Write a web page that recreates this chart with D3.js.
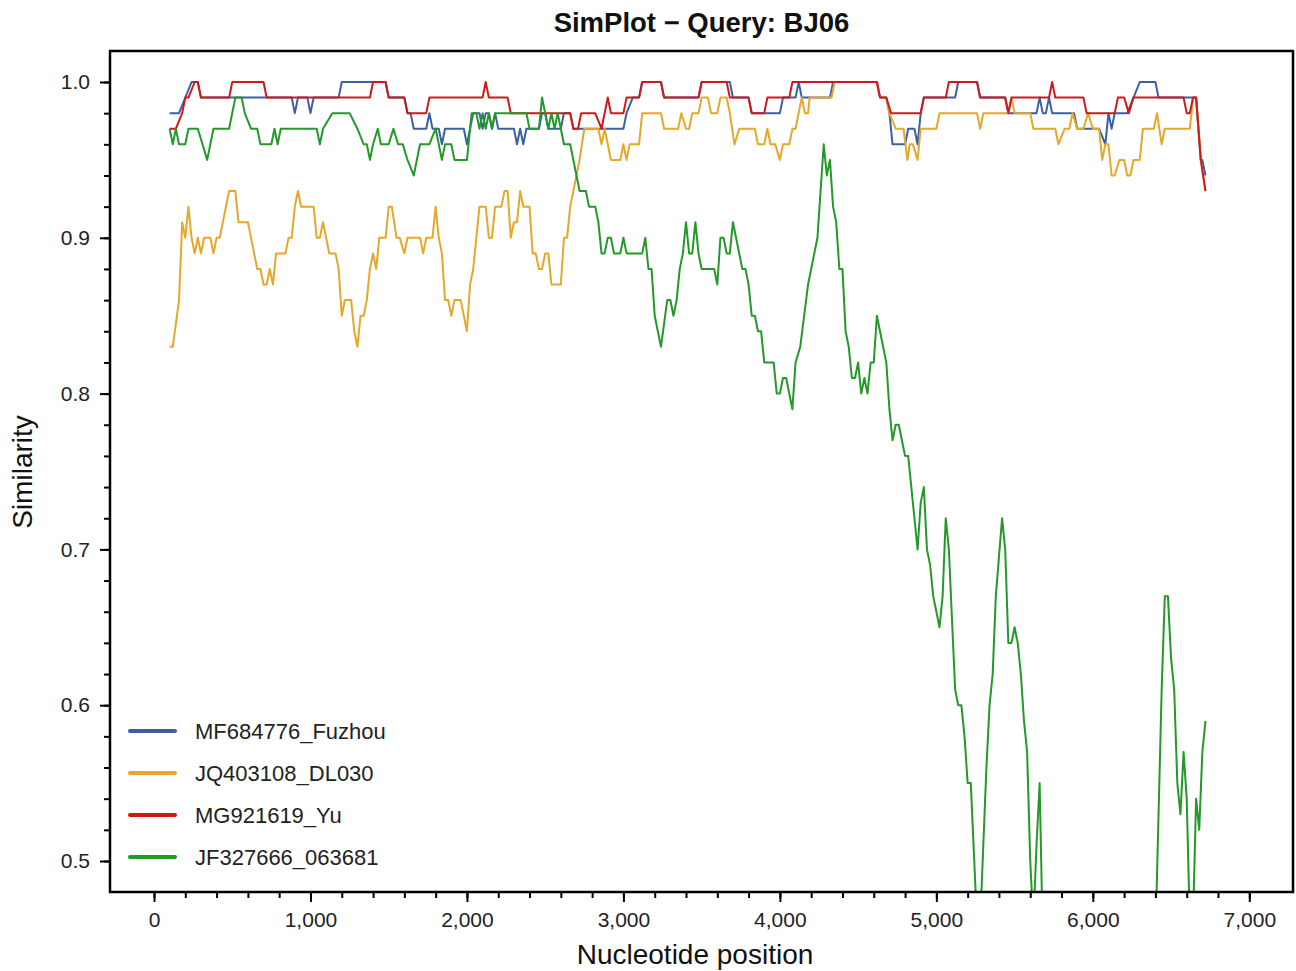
<!DOCTYPE html>
<html>
<head>
<meta charset="utf-8">
<script src="https://cdn.jsdelivr.net/npm/d3@7"></script>
<style>
  html, body { margin: 0; padding: 0; background: #fff; }
  svg { display: block; font-family: "Liberation Sans", Arial, sans-serif; }
</style>
</head>
<body>
<svg width="1296" height="971"></svg>
<script>
// window position (nt) and similarity
const fuzhou = [
  [100,.98],[160,.98],[200,.99],[240,1],[280,1],[300,.99],[880,.99],[900,.98],[920,.99],[980,.99],[1000,.98],[1020,.99],
  [1180,.99],[1200,1],[1480,1],[1500,.99],[1600,.99],[1620,.98],[1640,.98],[1660,.97],[1740,.97],[1760,.98],[1780,.97],
  [1820,.97],[1840,.96],[1860,.97],[1980,.97],[2000,.96],[2040,.98],[2080,.98],[2100,.97],[2120,.98],[2140,.98],[2160,.97],
  [2180,.98],[2200,.97],[2300,.97],[2320,.96],[2340,.97],[2360,.96],[2380,.97],[2460,.97],[2480,.98],[2500,.98],[2520,.97],
  [2600,.97],[2620,.98],[2660,.98],[2680,.97],[3000,.97],[3020,.98],[3060,.99],[3100,.99],[3120,1],[3240,1],[3260,.99],
  [3480,.99],[3500,1],[3680,1],[3700,.99],[3800,.99],[3820,.98],[4000,.98],[4020,.99],[4100,.99],[4120,1],[4140,.99],
  [4320,.99],[4340,1],[4620,1],[4640,.99],[4680,.99],[4700,.98],[4720,.96],[4800,.96],[4820,.97],[4860,.97],[4880,.96],
  [4900,.98],[4920,.99],[5120,.99],[5140,1],[5260,1],[5280,.99],[5440,.99],[5460,.98],[5640,.98],[5660,.99],[5680,.98],
  [5700,.98],[5720,.99],[5740,.98],[5880,.98],[5900,.97],[6040,.97],[6080,.96],[6100,.98],[6120,.97],[6140,.98],[6220,.98],
  [6260,.99],[6300,1],[6400,1],[6420,.99],[6660,.99],[6690,.95],[6700,.95],[6720,.94]
];

const dl030 = [
  [100,.83],[120,.83],[160,.86],[180,.91],[200,.90],[220,.92],[240,.90],[260,.89],[280,.90],[300,.89],[320,.90],[360,.90],
  [380,.89],[400,.90],[420,.90],[440,.91],[480,.93],[520,.93],[540,.91],[600,.91],[660,.88],[680,.88],[700,.87],[720,.87],
  [740,.88],[760,.87],[780,.89],[840,.89],[860,.90],[880,.90],[900,.92],[920,.93],[940,.92],[1020,.92],[1040,.90],[1060,.90],
  [1080,.91],[1120,.89],[1160,.89],[1180,.88],[1200,.85],[1220,.86],[1260,.86],[1280,.84],[1300,.83],[1320,.85],[1340,.85],
  [1360,.86],[1380,.88],[1400,.89],[1420,.88],[1440,.90],[1480,.90],[1500,.92],[1520,.92],[1550,.90],[1570,.90],[1600,.89],
  [1620,.90],[1700,.90],[1720,.89],[1740,.90],[1780,.90],[1800,.92],[1820,.90],[1840,.89],[1860,.86],[1880,.86],[1900,.85],
  [1920,.86],[1960,.86],[1980,.85],[2000,.84],[2020,.87],[2040,.88],[2080,.92],[2120,.92],[2140,.90],[2160,.90],[2180,.92],
  [2220,.92],[2240,.93],[2260,.93],[2280,.90],[2300,.91],[2320,.91],[2340,.93],[2360,.92],[2400,.92],[2420,.89],[2440,.89],
  [2460,.88],[2480,.88],[2500,.89],[2520,.89],[2540,.87],[2600,.87],[2620,.90],[2640,.90],[2660,.92],[2680,.93],[2700,.94],
  [2720,.95],[2750,.97],[2840,.97],[2860,.96],[2880,.97],[2900,.96],[2920,.95],[2980,.95],[3000,.96],[3020,.95],[3040,.96],
  [3100,.96],[3120,.98],[3240,.98],[3260,.97],[3350,.97],[3370,.98],[3400,.97],[3420,.97],[3440,.98],[3480,.98],[3500,.99],
  [3540,.99],[3560,.98],[3600,.98],[3620,.99],[3660,.99],[3680,.98],[3710,.96],[3740,.97],[3840,.97],[3860,.96],[3900,.96],
  [3920,.97],[3940,.96],[3970,.96],[4000,.95],[4020,.96],[4060,.96],[4080,.97],[4100,.97],[4120,.98],[4140,.99],[4160,.98],
  [4180,.98],[4190,.99],[4330,.99],[4350,1],[4620,1],[4640,.99],[4680,.99],[4700,.98],[4740,.97],[4790,.97],[4815,.95],
  [4830,.96],[4850,.96],[4880,.95],[4900,.97],[5000,.97],[5020,.98],[5260,.98],[5280,.97],[5300,.98],[5460,.98],[5480,.99],
  [5500,.98],[5600,.98],[5620,.97],[5760,.97],[5780,.96],[5820,.97],[5850,.97],[5870,.98],[5900,.97],[5940,.97],[5970,.98],
  [6000,.97],[6040,.97],[6060,.95],[6080,.96],[6100,.96],[6120,.94],[6140,.94],[6170,.95],[6200,.95],[6220,.94],[6240,.94],
  [6260,.95],[6300,.95],[6320,.97],[6390,.97],[6410,.98],[6440,.96],[6460,.97],[6620,.97],[6640,.99],[6660,.99],[6690,.95],
  [6720,.93]
];

const yu = [
  [100,.97],[140,.97],[180,.98],[200,.99],[220,.99],[260,1],[280,1],[300,.99],[480,.99],[500,1],[700,1],[720,.99],
  [1380,.99],[1400,1],[1480,1],[1500,.99],[1600,.99],[1620,.98],[1740,.98],[1760,.99],[2100,.99],[2120,1],[2140,.99],
  [2260,.99],[2280,.98],[2660,.98],[2680,.97],[2710,.97],[2730,.98],[2820,.98],[2860,.97],[2900,.99],[2920,.98],[3000,.98],
  [3020,.99],[3100,.99],[3120,1],[3240,1],[3260,.99],[3480,.99],[3500,1],[3660,1],[3680,.99],[3800,.99],[3820,.98],
  [3900,.98],[3920,.99],[4060,.99],[4080,1],[4620,1],[4640,.99],[4680,.99],[4710,.98],[4900,.98],[4920,.99],[5060,.99],
  [5080,1],[5260,1],[5280,.99],[5440,.99],[5460,.98],[5480,.99],[5720,.99],[5740,1],[5760,.99],[5940,.99],[5960,.98],
  [6140,.98],[6160,.99],[6200,.99],[6230,.98],[6260,.99],[6580,.99],[6600,.98],[6620,.98],[6640,.99],[6660,.99],
  [6690,.95],[6720,.93]
];

const s063681 = [
  [100,.97],[120,.96],[140,.97],[160,.96],[200,.96],[220,.97],[280,.97],[310,.96],[340,.95],[380,.97],[480,.97],[500,.98],
  [520,.99],[560,.99],[580,.98],[620,.97],[660,.97],[680,.96],[750,.96],[770,.97],[790,.96],[810,.97],[1040,.97],[1060,.96],
  [1080,.97],[1140,.98],[1250,.98],[1300,.97],[1340,.96],[1360,.96],[1380,.95],[1400,.96],[1430,.97],[1450,.96],[1500,.96],
  [1530,.97],[1560,.96],[1590,.96],[1620,.95],[1660,.94],[1700,.96],[1760,.96],[1800,.97],[1840,.95],[1860,.96],[1900,.96],
  [1920,.95],[2000,.95],[2030,.98],[2060,.98],[2080,.97],[2100,.98],[2120,.97],[2140,.98],[2160,.97],[2180,.98],[2380,.98],
  [2400,.97],[2460,.97],[2480,.99],[2500,.98],[2520,.97],[2540,.98],[2560,.97],[2580,.98],[2600,.97],[2620,.96],[2660,.96],
  [2680,.95],[2700,.94],[2720,.93],[2760,.93],[2780,.92],[2820,.92],[2840,.91],[2860,.89],[2880,.89],[2900,.90],[2920,.90],
  [2940,.89],[2980,.89],[3000,.90],[3020,.89],[3120,.89],[3140,.90],[3160,.88],[3180,.88],[3200,.85],[3220,.84],[3240,.83],
  [3280,.86],[3300,.86],[3320,.85],[3340,.86],[3360,.88],[3380,.89],[3400,.91],[3420,.89],[3440,.89],[3460,.91],[3480,.89],
  [3500,.88],[3580,.88],[3600,.87],[3620,.90],[3640,.90],[3660,.89],[3680,.89],[3700,.91],[3760,.88],[3780,.88],[3800,.87],
  [3820,.85],[3840,.85],[3860,.84],[3880,.84],[3900,.82],[3960,.82],[3980,.80],[4000,.80],[4020,.81],[4040,.81],[4080,.79],
  [4100,.82],[4130,.83],[4180,.87],[4240,.90],[4280,.96],[4300,.94],[4320,.95],[4340,.92],[4360,.91],[4380,.88],[4400,.88],
  [4420,.84],[4440,.83],[4460,.81],[4480,.81],[4500,.82],[4520,.80],[4540,.81],[4560,.80],[4580,.82],[4600,.82],[4620,.85],
  [4680,.82],[4700,.79],[4720,.77],[4740,.78],[4760,.78],[4800,.76],[4820,.76],[4840,.74],[4880,.70],[4900,.73],[4920,.74],
  [4940,.70],[4960,.69],[4980,.67],[5020,.65],[5040,.67],[5060,.72],[5080,.70],[5120,.61],[5140,.60],[5160,.60],[5180,.58],
  [5200,.55],[5220,.55],[5260,.46],[5280,.46],[5300,.51],[5320,.56],[5340,.60],[5360,.62],[5380,.67],[5420,.72],[5440,.70],
  [5460,.64],[5480,.64],[5500,.65],[5520,.64],[5540,.62],[5560,.59],[5580,.57],[5600,.50],[5620,.46],[5640,.51],[5660,.55],
  [5680,.45],[6400,.45],[6440,.61],[6460,.67],[6480,.67],[6500,.63],[6520,.61],[6540,.55],[6560,.53],[6580,.57],[6600,.54],
  [6620,.46],[6640,.46],[6660,.54],[6680,.52],[6700,.57],[6720,.59]
];

const seriesNames = ["MF684776_Fuzhou", "JQ403108_DL030", "MG921619_Yu", "JF327666_063681"];
const seriesData = [fuzhou, dl030, yu, s063681];
const seriesColors = ["#3a5fa8", "#e6a72a", "#d0181b", "#24992a"];

const xTicks = d3.range(0, 7001, 1000);
const xMinor = d3.range(0, 7001, 200);
const yTicks = [0.5, 0.6, 0.7, 0.8, 0.9, 1.0];
const yMinor = d3.range(50, 101, 2).map(d => d / 100);

// frame in pixels
const frameL = 110, frameR = 1293, frameT = 51, frameB = 892;

const x = d3.scaleLinear().domain([0, 7000]).range([154, 1249.3]);
const y = d3.scaleLinear().domain([0.5, 1.0]).range([861, 82]);

const svg = d3.select("svg");
svg.append("rect").attr("width", 1296).attr("height", 971).attr("fill", "#fff");

svg.append("defs").append("clipPath").attr("id", "plotclip")
  .append("rect")
  .attr("x", frameL).attr("y", frameT)
  .attr("width", frameR - frameL).attr("height", frameB - frameT);

// lines
const line = d3.line()
  .x(d => x(d[0]))
  .y(d => y(d[1]));

const g = svg.append("g").attr("clip-path", "url(#plotclip)");
g.selectAll("path")
  .data(seriesData)
  .join("path")
  .attr("d", line)
  .attr("fill", "none")
  .attr("stroke", (d, i) => seriesColors[i])
  .attr("stroke-width", 2)
  .attr("stroke-linejoin", "round");

// axes
svg.append("g")
  .attr("transform", `translate(0,${frameB})`)
  .call(d3.axisBottom(x).tickValues(xTicks).tickFormat(d3.format(",")).tickSize(10).tickPadding(10));
svg.append("g")
  .attr("transform", `translate(0,${frameB})`)
  .call(d3.axisBottom(x).tickValues(xMinor).tickFormat("").tickSize(6));

svg.append("g")
  .attr("transform", `translate(${frameL},0)`)
  .call(d3.axisLeft(y).tickValues(yTicks).tickFormat(d3.format(".1f")).tickSize(10).tickPadding(10));
svg.append("g")
  .attr("transform", `translate(${frameL},0)`)
  .call(d3.axisLeft(y).tickValues(yMinor).tickFormat("").tickSize(6));

svg.selectAll(".domain").remove();
svg.selectAll(".tick line").attr("stroke", "#000").attr("stroke-width", 2);
svg.selectAll(".tick text").attr("font-size", 21).attr("fill", "#222")
  .attr("font-family", "'Liberation Sans', Arial, sans-serif");

svg.append("rect")
  .attr("x", frameL).attr("y", frameT)
  .attr("width", frameR - frameL).attr("height", frameB - frameT)
  .attr("fill", "none").attr("stroke", "#000").attr("stroke-width", 2.5);

// titles
svg.append("text")
  .attr("x", (frameL + frameR) / 2).attr("y", 32)
  .attr("text-anchor", "middle")
  .attr("font-size", 27.5).attr("font-weight", "bold").attr("fill", "#111")
  .text("SimPlot \u2212 Query: BJ06");

svg.append("text")
  .attr("x", 695).attr("y", 964)
  .attr("text-anchor", "middle")
  .attr("font-size", 28).attr("fill", "#111")
  .text("Nucleotide position");

svg.append("text")
  .attr("transform", "translate(32,472) rotate(-90)")
  .attr("text-anchor", "middle")
  .attr("font-size", 28).attr("fill", "#111")
  .text("Similarity");

// legend
const legend = svg.append("g")
  .selectAll("g")
  .data(seriesNames)
  .join("g")
  .attr("transform", (d, i) => `translate(130,${731 + i * 42})`);

legend.append("line")
  .attr("x1", 0).attr("x2", 45)
  .attr("stroke", (d, i) => seriesColors[i])
  .attr("stroke-width", 4)
  .attr("stroke-linecap", "round");

legend.append("text")
  .attr("x", 65).attr("dy", "0.35em")
  .attr("font-size", 22).attr("fill", "#222")
  .text(d => d);
</script>
</body>
</html>
